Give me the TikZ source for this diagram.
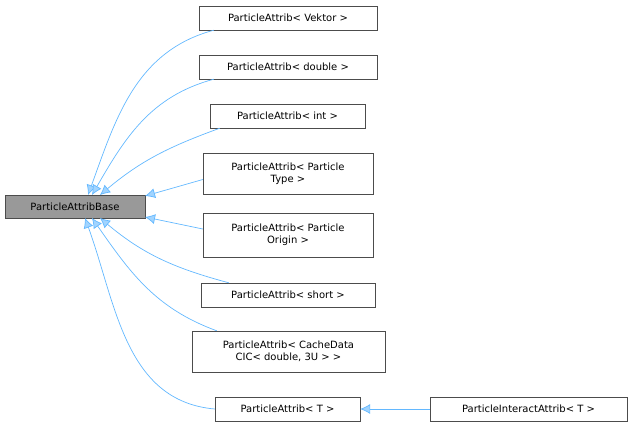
\documentclass[tikz,border=0pt]{standalone}
\usepackage{fontspec}
\setmainfont{DejaVu Sans}
\usetikzlibrary{arrows.meta}
\definecolor{edgeblue}{HTML}{63B8FF}
\tikzset{
 cls/.style={draw=black!70, fill=white, inner sep=1pt, align=center, font=\fontsize{10}{12}\selectfont},
 basecls/.style={cls, fill=black!40},
 edge/.style={draw=edgeblue, -{Latex[length=10pt,width=10pt,fill=edgeblue!60]}, line width=0.7pt}
}
\begin{document}
\begin{tikzpicture}[x=1pt,y=1pt]
\useasboundingbox (0,0) rectangle (632,-428);
\node[basecls, minimum width=140pt, minimum height=23pt] (base) at (75,-206.5) {ParticleAttribBase};
\node[cls, minimum width=178pt, minimum height=24pt] (vek) at (288,-18) {ParticleAttrib< Vektor >};
\node[cls, minimum width=178pt, minimum height=24pt] (dbl) at (288,-67) {ParticleAttrib< double >};
\node[cls, minimum width=155pt, minimum height=24pt] (int) at (287.5,-116) {ParticleAttrib< int >};
\node[cls, minimum width=170pt, minimum height=41pt] (pty) at (288,-173.5) {ParticleAttrib< Particle\\Type >};
\node[cls, minimum width=170pt, minimum height=44pt] (por) at (288,-235) {ParticleAttrib< Particle\\Origin >};
\node[cls, minimum width=174pt, minimum height=24pt] (sht) at (288,-295) {ParticleAttrib< short >};
\node[cls, minimum width=193pt, minimum height=41pt] (cac) at (288.5,-351.5) {ParticleAttrib< CacheData\\CIC< double, 3U > >};
\node[cls, minimum width=145pt, minimum height=24pt] (tt) at (287.5,-409) {ParticleAttrib< T >};
\node[cls, minimum width=197pt, minimum height=24pt] (pia) at (528.5,-409) {ParticleInteractAttrib< T >};
\coordinate (e1) at (88,-195);
\coordinate (e2) at (92,-195);
\coordinate (e3) at (100,-195);
\coordinate (e4) at (145,-196);
\coordinate (e5) at (145,-217);
\coordinate (e6) at (100,-218);
\coordinate (e7) at (92,-218);
\coordinate (e8) at (85,-218);
\draw[edge] ([xshift=15pt]vek.south west) to[out=195,in=70] (e1);
\draw[edge] ([xshift=15pt]dbl.south west) to[out=195,in=60] (e2);
\draw[edge] ([xshift=10pt]int.south west) to[out=200,in=40] (e3);
\draw[edge] ([yshift=-6pt]pty.west) -- (e4);
\draw[edge] ([yshift=6pt]por.west) -- (e5);
\draw[edge] ([xshift=28pt]sht.north west) to[out=165,in=-40] (e6);
\draw[edge] ([xshift=25pt]cac.north west) to[out=160,in=-55] (e7);
\draw[edge] (tt.west) to[out=175,in=-70] (e8);
\draw[edge] (pia.west) -- (tt.east);
\end{tikzpicture}
\end{document}
